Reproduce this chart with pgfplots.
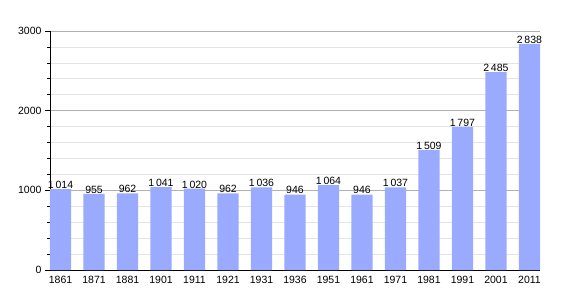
\documentclass[border=0pt]{standalone}
\usepackage{fontspec}
\setmainfont{Liberation Sans}
\usepackage{pgfplots}
\usepackage{pgfplotstable}
\pgfplotsset{compat=1.18}
\definecolor{barblue}{RGB}{153,170,255}
\definecolor{majgrid}{RGB}{176,176,176}
\definecolor{mingrid}{RGB}{228,228,228}
\pgfplotstableread{
x year pop
0 1861 1014
1 1871 955
2 1881 962
3 1901 1041
4 1911 1020
5 1921 962
6 1931 1036
7 1936 946
8 1951 1064
9 1961 946
10 1971 1037
11 1981 1509
12 1991 1797
13 2001 2485
14 2011 2838
}\pop
\begin{document}
\begin{tikzpicture}
\begin{axis}[
  scale only axis,
  width=490pt, height=239pt,
  xmin=-0.315, xmax=14.315,
  ymin=0, ymax=3000,
  axis lines*=left,
  axis line style={black, line width=0.8pt},
  x axis line style={-},
  y axis line style={-},
  xtick={0,...,14},
  xticklabels={1861,1871,1881,1901,1911,1921,1931,1936,1951,1961,1971,1981,1991,2001,2011},
  major x tick style={draw=none},
  ytick={0,1000,2000,3000},
  minor y tick num=4,
  tick align=outside,
  major tick length=5pt,
  minor tick length=2.5pt,
  y tick style={black, line width=0.6pt},
  ymajorgrids, yminorgrids,
  major grid style={majgrid, line width=0.7pt},
  minor grid style={mingrid, line width=0.7pt},
  /pgf/number format/assume math mode=true,
  yticklabel style={/pgf/number format/1000 sep={}, font=\fontsize{10.5}{12}\selectfont},
  xticklabel style={font=\fontsize{10.5}{12}\selectfont, yshift=2pt},
  axis on top=false,
  clip=false,
]
\addplot[ybar, bar width=0.63, fill=barblue, draw=none,
  nodes near coords,
  nodes near coords style={font=\fontsize{10.5}{12}\selectfont, anchor=south, yshift=-3pt,
    /pgf/number format/1000 sep={\,}, /pgf/number format/assume math mode=true},
] table[x=x, y=pop] {\pop};
\end{axis}
\path[use as bounding box] ([xshift=-50pt,yshift=-30pt]current axis.south west) rectangle ([xshift=30pt,yshift=31pt]current axis.north east);
\end{tikzpicture}
\end{document}
